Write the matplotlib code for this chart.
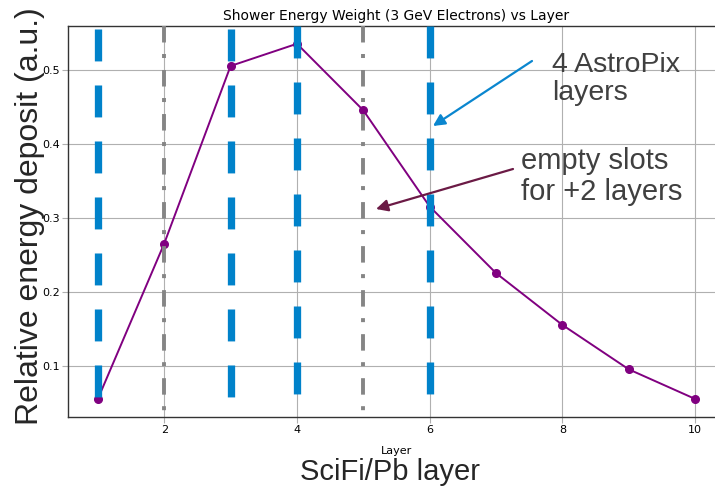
import matplotlib
matplotlib.use("Agg")
import matplotlib.pyplot as plt

# ---- data ----
layers = [1, 2, 3, 4, 5, 6, 7, 8, 9, 10]
energy = [0.055, 0.265, 0.505, 0.535, 0.445, 0.315, 0.225, 0.155, 0.095, 0.055]
astropix_layers = [1, 3, 4, 6]
empty_slots = [2, 5]
x_ticks = [2, 4, 6, 8, 10]
y_ticks = [0.1, 0.2, 0.3, 0.4, 0.5]
title = "Shower Energy Weight (3 GeV Electrons) vs Layer"

fig = plt.figure(figsize=(7.15, 4.87), dpi=100)
ax = fig.add_axes([68 / 715, 70.3 / 487, 657 / 715, 390.7 / 487])

ax.grid(True, color="#b0b0b0", lw=0.8, zorder=0)
ax.set_axisbelow(True)

ax.plot(layers, energy, color="purple", lw=1.4, marker="o", ms=5.5, zorder=3)

xt = ax.get_xaxis_transform()
# AstroPix layers (blue dashed)
offsets = {1: 7.27, 3: 7.27, 4: 0.0, 6: 0.0}
for xl in astropix_layers:
    ax.plot([xl, xl], [1, 0], transform=xt, color="#0082CA", lw=5.25,
            linestyle=(offsets.get(xl, 0.0), (4.38, 3.3)), solid_capstyle="butt",
            dash_capstyle="butt", zorder=4, clip_on=True)
# empty slots (gray dash-dot)
for xl in empty_slots:
    ax.plot([xl, xl], [1, 0], transform=xt, color="#858585", lw=2.8,
            linestyle=(0, (4.24, 2.96, 1.03, 3.09)), dash_capstyle="butt",
            zorder=4)

ax.set_xlim(0.55, 10.45)
ax.set_ylim(0.031, 0.559)
ax.set_xticks(x_ticks)
ax.set_yticks(y_ticks)
ax.set_yticklabels([f"{v:.1f}" for v in y_ticks])
ax.tick_params(axis="both", labelsize=8, color="#b0b0b0", length=4, pad=2)
ax.set_xlabel("Layer", fontsize=8, labelpad=8)
ax.set_title(title, fontsize=10, pad=4)
for s in ax.spines.values():
    s.set_color("#333333")
    s.set_linewidth(1.0)

# large slide-style labels
fig.text(30 / 715, 1 - 216 / 487, "Relative energy deposit (a.u.)", rotation=90,
         ha="center", va="center", fontsize=23, family="Liberation Sans",
         color="#262626")
fig.text(390 / 715, 7 / 487, "SciFi/Pb layer", ha="center", va="baseline",
         fontsize=21, family="Liberation Sans", color="#262626")

# annotations
def fpt(x, y):
    return (x / 715, 1 - y / 487)

fig.text(552 / 715, 1 - 100 / 487, "4 AstroPix\nlayers", ha="left", va="baseline",
         fontsize=20.5, family="Liberation Sans", color="#404040",
         linespacing=1.1)
fig.text(521 / 715, 1 - 200 / 487, "empty slots\nfor +2 layers", ha="left",
         va="baseline", fontsize=21, family="Liberation Sans", color="#404040",
         linespacing=1.15)

fig.add_artist(matplotlib.patches.FancyArrowPatch(
    fpt(532, 61), fpt(433, 126), transform=fig.transFigure,
    arrowstyle="-|>,head_length=7,head_width=3.5", color="#0A86CF", lw=1.6,
    shrinkA=0, shrinkB=0))
fig.add_artist(matplotlib.patches.FancyArrowPatch(
    fpt(513, 169), fpt(376, 209), transform=fig.transFigure,
    arrowstyle="-|>,head_length=7,head_width=3.5", color="#6B1A45", lw=1.6,
    shrinkA=0, shrinkB=0))

fig.savefig("out.png", dpi=100)
